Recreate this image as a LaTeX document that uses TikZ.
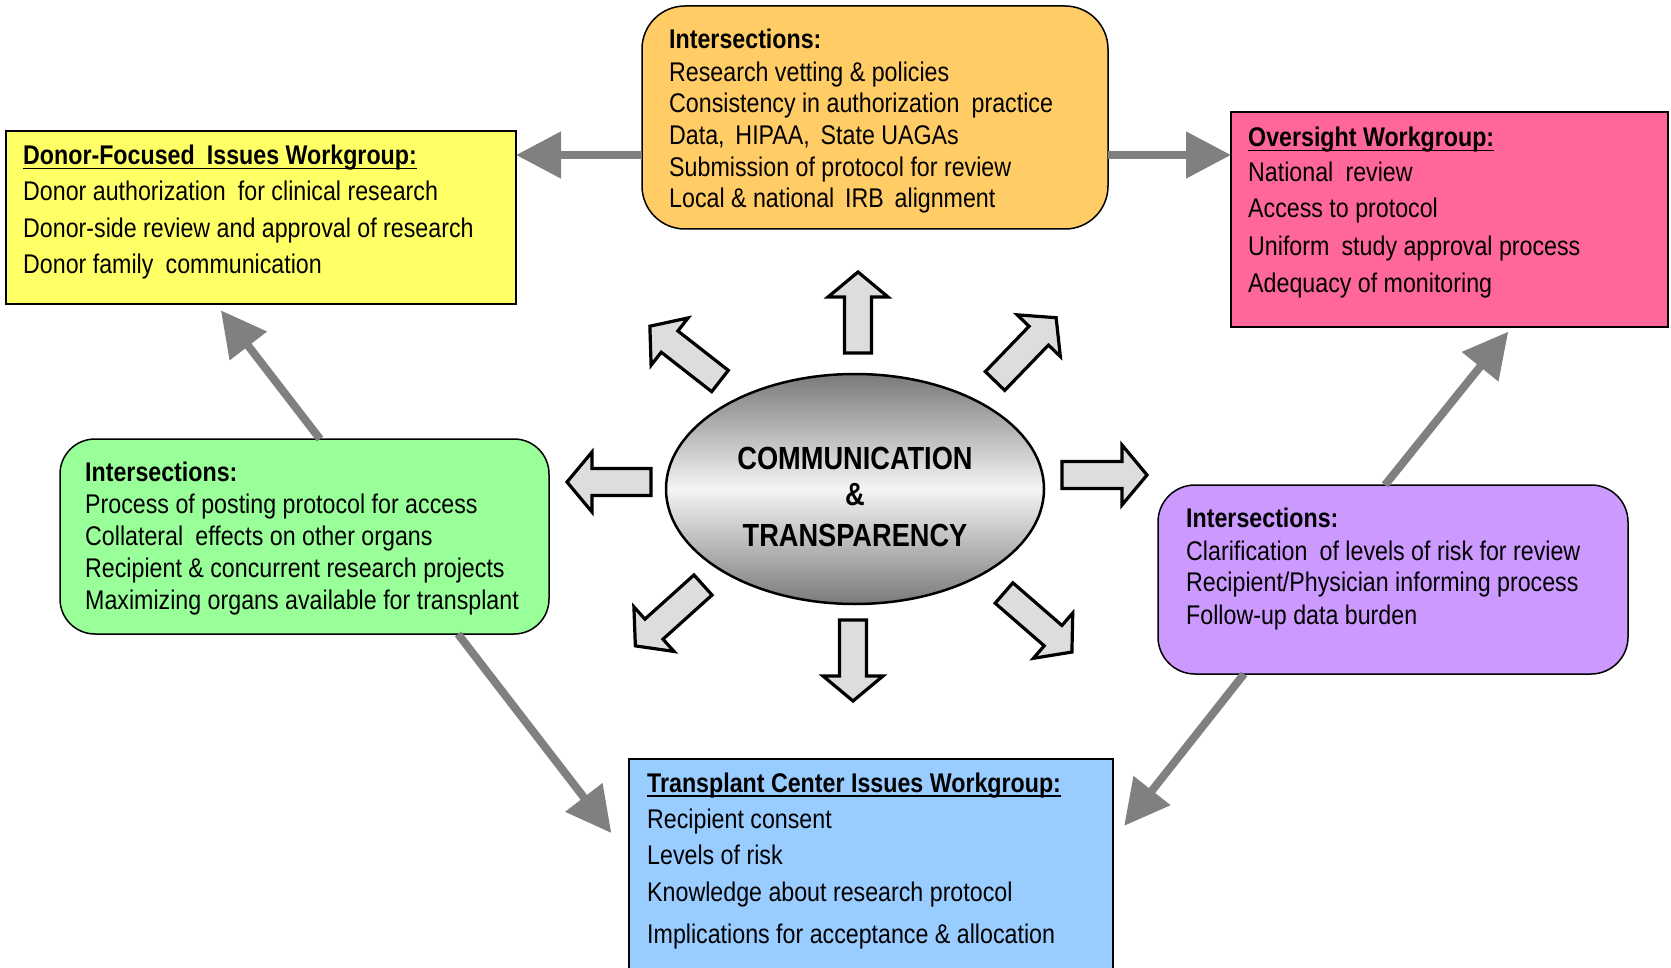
\documentclass[tikz,border=0pt]{standalone}
\usepackage{fontspec}
\setmainfont{Liberation Sans}[FakeStretch=0.86]
\newfontfamily\ctrfont{Liberation Sans}[FakeStretch=0.85]
\usetikzlibrary{arrows.meta,shapes.geometric}
\definecolor{cyellow}{HTML}{FFFF66}
\definecolor{corange}{HTML}{FFCC66}
\definecolor{cpink}{HTML}{FF6699}
\definecolor{cgreen}{HTML}{99FF99}
\definecolor{cpurple}{HTML}{CC99FF}
\definecolor{cblue}{HTML}{99CCFF}
\definecolor{conngray}{HTML}{808080}
\definecolor{blockfill}{HTML}{DDDDDD}
\definecolor{elldark}{HTML}{7A7A7A}
\definecolor{elllight}{HTML}{F4F4F4}
\newcommand\ulx[1]{\setbox0=\hbox{#1}\rlap{\rule[-4.5pt]{\wd0}{1.8pt}}\box0}
\tikzset{
  box/.style={draw=black, line width=1.5pt, inner sep=0pt, outer sep=0pt},
  txt/.style={anchor=base west, inner sep=0pt, font=\fontsize{27}{32}\selectfont},
  hdr/.style={anchor=base west, inner sep=0pt, font=\fontsize{27}{32}\selectfont\bfseries},
  ctrtxt/.style={anchor=base, inner sep=0pt, font=\ctrfont\bfseries\fontsize{32}{36}\selectfont},
  conn/.style={draw=conngray, line width=8pt, -{Triangle[length=45pt,width=45pt]}},
  blockstyle/.style={draw=black, fill=blockfill, line width=3.2pt, line join=miter},
  pics/blockarrow/.style={code={\draw[blockstyle] (0,13.5) -- ({#1-25},13.5) -- ({#1-25},30) -- (#1,0) -- ({#1-25},-30) -- ({#1-25},-13.5) -- (0,-13.5) -- cycle;}}
}
\begin{document}
\begin{tikzpicture}[x=1pt,y=-1pt]
\fill[white] (0,0) rectangle (1671,968);
\useasboundingbox (0,0) rectangle (1671,968);
\clip (0,0) rectangle (1671,968);

% boxes
\node[box, fill=cyellow, minimum width=510, minimum height=173] (yellow) at (261,217.5) {};
\node[box, fill=corange, rounded corners=43pt, minimum width=466, minimum height=223] (orange) at (875,117.5) {};
\node[box, fill=cpink, minimum width=437, minimum height=215] (pink) at (1449.5,219.5) {};
\node[box, fill=cgreen, rounded corners=35pt, minimum width=489, minimum height=195] (green) at (304.5,536.5) {};
\node[box, fill=cpurple, rounded corners=37pt, minimum width=470, minimum height=189] (purple) at (1393,579.5) {};
\node[box, fill=cblue, minimum width=484, minimum height=216] (blue) at (871,867) {};

% connectors
\draw[conn] (orange.west |- 0,155) -- (yellow.east |- 0,155);
\draw[conn] (orange.east |- 0,155) -- (pink.west |- 0,155);
\draw[conn, shorten >=8pt] (green.north -| 320,0) -- (yellow.south -| 216,0);
\draw[conn, shorten >=29pt] (green.south -| 458,0) -- (blue.west |- 0,856);
\draw[conn, shorten >=6pt] (purple.north -| 1385,0) -- (pink.south -| 1512,0);
\draw[conn, shorten >=18pt] (purple.south -| 1244,0) -- (blue.east |- 0,840);

% centre
\node[ellipse, draw=black, line width=2.5pt, minimum width=378, minimum height=230,
  top color=elldark, bottom color=elldark, middle color=elllight] (ctr) at (855,489) {};
\node[ctrtxt] (c1) at (855,469) {COMMUNICATION};
\node[ctrtxt] (c2) at (855,505) {\&};
\node[ctrtxt] (c3) at (855,546) {TRANSPARENCY};

% block arrows
\pic[rotate=90] (bu) at (858,353) {blockarrow=81};
\pic[rotate=46] (bur) at (995,381) {blockarrow=88};
\pic[rotate=0] (br) at (1062,475) {blockarrow=85};
\pic[rotate=-41] (bdr) at (1004,593) {blockarrow=90};
\pic[rotate=-90] (bd) at (853,620) {blockarrow=81};
\pic[rotate=222] (bdl) at (703,585) {blockarrow=91};
\pic[rotate=180] (bl) at (651,482) {blockarrow=84};
\pic[rotate=142] (bul) at (720,381) {blockarrow=89};

% yellow text
\node[hdr] (y0) at (23,165) {\ulx{Donor-Focused\hspace{0.45em}Issues Workgroup:}};
\node[txt] (y1) at (23,201) {Donor authorization\hspace{0.45em}for clinical research};
\node[txt] (y2) at (23,237.5) {Donor-side review and approval of research};
\node[txt] (y3) at (23,274) {Donor family\hspace{0.45em}communication};

% orange text
\node[hdr] (o0) at (669,49) {Intersections:};
\node[txt] (o1) at (669,82) {Research vetting \& policies};
\node[txt] (o2) at (669,113) {Consistency in authorization\hspace{0.45em}practice};
\node[txt] (o3) at (669,145) {Data,\hspace{0.4em}HIPAA,\hspace{0.4em}State UAGAs};
\node[txt] (o4) at (669,177) {Submission of protocol for review};
\node[txt] (o5) at (669,208) {Local \& national\hspace{0.4em}IRB\hspace{0.4em}alignment};

% pink text
\node[hdr] (p0) at (1248,147) {\ulx{Oversight Workgroup:}};
\node[txt] (p1) at (1248,182) {National\hspace{0.45em}review};
\node[txt] (p2) at (1248,218) {Access to protocol};
\node[txt] (p3) at (1248,256) {Uniform\hspace{0.45em}study approval process};
\node[txt] (p4) at (1248,293) {Adequacy of monitoring};

% green text
\node[hdr] (g0) at (85,481.5) {Intersections:};
\node[txt] (g1) at (85,513.5) {Process of posting protocol for access};
\node[txt] (g2) at (85,545.5) {Collateral\hspace{0.45em}effects on other organs};
\node[txt] (g3) at (85,577.5) {Recipient \& concurrent research projects};
\node[txt] (g4) at (85,609.5) {Maximizing organs available for transplant};

% purple text
\node[hdr] (u0) at (1186,527.5) {Intersections:};
\node[txt] (u1) at (1186,560.5) {Clarification\hspace{0.45em}of levels of risk for review};
\node[txt] (u2) at (1186,591.5) {Recipient/Physician informing process};
\node[txt] (u3) at (1186,624.5) {Follow-up data burden};

% blue text
\node[hdr] (b0) at (647,792) {\ulx{Transplant Center Issues Workgroup:}};
\node[txt] (b1) at (647,828) {Recipient consent};
\node[txt] (b2) at (647,864) {Levels of risk};
\node[txt] (b3) at (647,901) {Knowledge about research protocol};
\node[txt] (b4) at (647,943) {Implications for acceptance \& allocation};
\end{tikzpicture}
\end{document}
